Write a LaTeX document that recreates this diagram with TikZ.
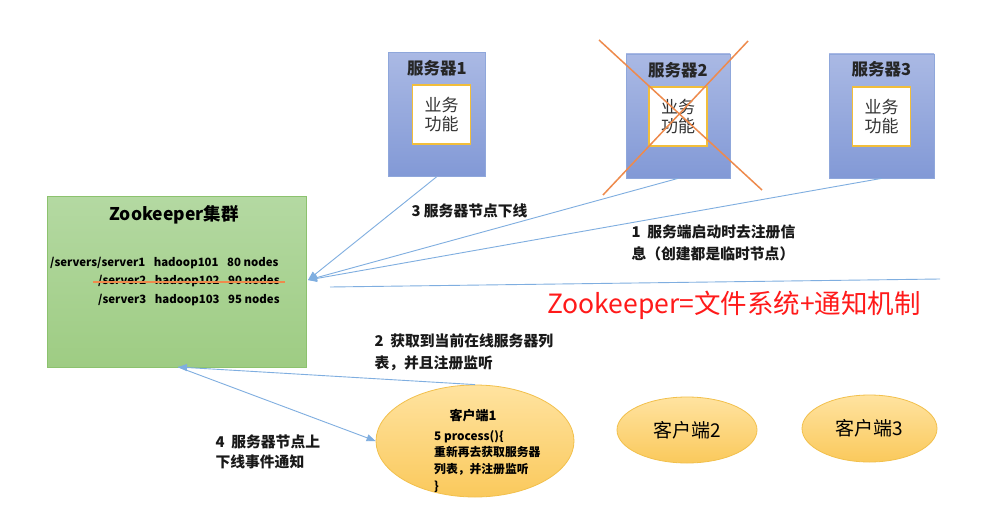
\documentclass[tikz,border=0pt]{standalone}
\usepackage{fontspec}
\setmainfont{Noto Sans CJK SC}
\usetikzlibrary{arrows.meta,shapes.geometric,calc}
\definecolor{srvtop}{HTML}{AAB9E4}
\definecolor{srvbot}{HTML}{8299D6}
\definecolor{srvline}{HTML}{8FA7DB}
\definecolor{gold}{HTML}{F2BE3A}
\definecolor{zktop}{HTML}{B4D9A2}
\definecolor{zkbot}{HTML}{9ECC83}
\definecolor{zkline}{HTML}{8CC26E}
\definecolor{cltop}{HTML}{FFE3A0}
\definecolor{clbot}{HTML}{FAC95C}
\definecolor{clline}{HTML}{F2C04C}
\definecolor{arr}{HTML}{7FAEE0}
\definecolor{crossc}{HTML}{EE8A4C}
\definecolor{redtxt}{HTML}{FF1A1A}
\newcommand{\gp}{\hspace{0.75em}}
\tikzset{
  srvbox/.style={draw=srvline,line width=0.8pt,top color=srvtop,bottom color=srvbot,minimum width=#1,minimum height=124pt,inner sep=0pt},
  bizbox/.style={draw=gold,line width=1.2pt,fill=white,minimum width=58pt,minimum height=59pt,inner sep=0pt,align=center,font=\fontsize{17}{20}\selectfont,text=black!80},
  srvtitle/.style={font=\bfseries\fontsize{16.5}{18}\selectfont,text=black!85},
  client/.style={ellipse,draw=clline,line width=0.8pt,top color=cltop,bottom color=clbot,inner sep=0pt},
  conn/.style={draw=arr,line width=0.9pt},
  tipped/.style={conn,-{Triangle[length=9pt,width=7pt]}},
  lbl/.style={font=\bfseries\fontsize{14.8}{22}\selectfont,anchor=west,text=black!90},
  zkline/.style={font=\bfseries\fontsize{11.4}{12}\selectfont,anchor=west,inner sep=0pt},
  crossline/.style={draw=crossc,line width=1.5pt},
}
\begin{document}
\begin{tikzpicture}[x=1pt,y=-1pt]
\useasboundingbox (0,0) rectangle (982,516);
\fill[white] (0,0) rectangle (982,516);

% Zookeeper cluster
\node[draw=zkline,line width=0.8pt,top color=zktop,bottom color=zkbot,minimum width=259pt,minimum height=171pt,inner sep=0pt] (zk) at (176.5,281.5) {};
\node[font=\bfseries\fontsize{17.5}{20}\selectfont] (zkt) at (174,215) {Zookeeper集群};
\node[zkline] (z1) at (50,263) {/servers/server1\gp hadoop101\gp 80 nodes};
\node[zkline] (z2) at (98,281) {/server2\gp hadoop102\gp 90 nodes};
\node[zkline] (z3) at (98,300) {/server3\gp hadoop103\gp 95 nodes};
\coordinate (st1) at (93,282);
\coordinate (st2) at (285,282);
\draw[crossline,line width=1.2pt] (st1) -- (st2);

% Servers
\node[srvbox=97pt] (s1) at (436.5,114.5) {};
\node[srvtitle] (s1t) at (437,68) {服务器1};
\node[bizbox] (b1) at (441.5,114.5) {业务\\[-1pt]功能};

\node[srvbox=104pt] (s2) at (678,116) {};
\node[srvtitle] (s2t) at (678,70) {服务器2};
\node[bizbox] (b2) at (678,116.5) {业务\\[-1pt]功能};

\node[srvbox=105pt] (s3) at (881.5,116) {};
\node[srvtitle] (s3t) at (881.5,69) {服务器3};
\node[bizbox] (b3) at (881.5,116.5) {业务\\[-1pt]功能};

% cross on server 2
\coordinate (x1) at (599,40);
\coordinate (x2) at (762,190);
\coordinate (x3) at (748,41);
\coordinate (x4) at (603,195);
\draw[crossline] (x1) -- (x2);
\draw[crossline] (x3) -- (x4);

% connectors servers -> zookeeper
\coordinate (zkin) at (308,280);
\draw[tipped] (s1.south) -- (zkin);
\draw[tipped] (s2.south) -- (zkin);
\draw[tipped] (s3.south) -- (zkin);
\coordinate (la) at (940,279);
\coordinate (lb) at (330,287);
\draw[conn] (la) -- (lb);

% labels
\node[lbl] (l3) at (408,211) {3 服务器节点下线};
\node[lbl,align=left] (l1) at (628,243) {1\ \ 服务端启动时去注册信\\息（创建都是临时节点）};
\node[font=\fontsize{26.5}{30}\selectfont,text=redtxt] (red) at (734,305) {Zookeeper=文件系统+通知机制};
\node[lbl,align=left] (l2) at (371,352) {2\ \ 获取到当前在线服务器列\\表，并且注册监听};
\node[lbl,align=left,font=\bfseries\fontsize{14.8}{20.5}\selectfont] (l4) at (212,452) {4\ \ 服务器节点上\\下线事件通知};

% clients
\node[client,minimum width=198pt,minimum height=112pt] (c1) at (475,441) {};
\node[font=\bfseries\fontsize{13}{16}\selectfont] (c1t) at (473,416) {客户端1};
\node[font=\bfseries\fontsize{11.8}{16.7}\selectfont,anchor=north west,align=left,inner sep=0pt] (c1b) at (434,430) {5 process()\{\\重新再去获取服务器\\列表，并注册监听\\\}};
\node[client,minimum width=140pt,minimum height=66pt,font=\fontsize{19}{22}\selectfont] (c2) at (687,430) {客户端2};
\node[client,minimum width=135pt,minimum height=67pt,font=\fontsize{19}{22}\selectfont] (c3) at (869.5,428.5) {客户端3};

% connectors zookeeper <-> client1
\coordinate (zkb) at (178,367);
\draw[tipped] (c1.north) -- (zkb);
\draw[tipped] (zkb) -- (c1.west);
\end{tikzpicture}
\end{document}
